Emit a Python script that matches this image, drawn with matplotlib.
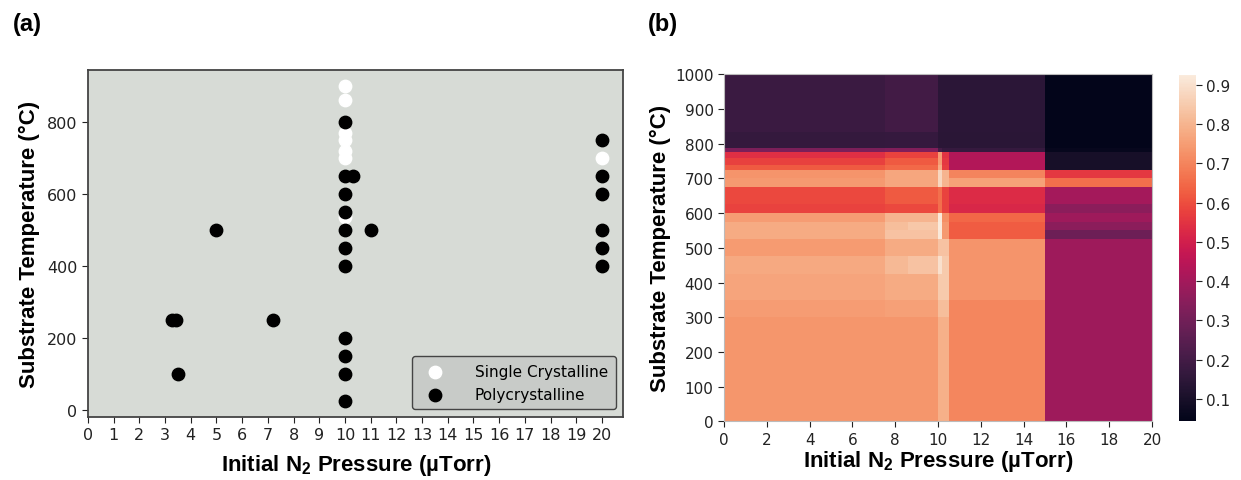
import numpy as np
import matplotlib
matplotlib.use("Agg")
import matplotlib.pyplot as plt
import seaborn as sns

plt.rcParams['font.family'] = ['DejaVu Sans']
plt.rcParams['mathtext.fontset'] = 'custom'
plt.rcParams['mathtext.rm'] = 'Liberation Sans'
plt.rcParams['mathtext.bf'] = 'Liberation Sans:bold'

# (a) growth results
single_p = [10, 10, 10, 10, 10, 10, 10, 20]
single_t = [900, 860, 770, 750, 720, 700, 535, 700]
poly_p = [10, 10, 10, 10, 10, 10, 10, 10, 10, 10, 10, 10.3, 11, 5, 3.25, 3.42, 3.5, 7.2,
          20, 20, 20, 20, 20, 20]
poly_t = [800, 650, 600, 550, 500, 450, 400, 200, 150, 100, 25, 650, 500, 500, 250, 250, 100, 250,
          750, 650, 600, 500, 450, 400]

# (b) predicted map, cell edges and values (rows bottom -> top)
p_edges = [0, 7.5, 8.6, 10.0, 10.2, 10.5, 15, 20]
t_edges = [0, 300, 350, 425, 475, 525, 550, 575, 600, 625, 675, 700, 725, 740, 760, 775, 787, 835, 1000]
prob = [
    [0.735, 0.735, 0.735, 0.79, 0.79, 0.705, 0.39],
    [0.75, 0.755, 0.755, 0.82, 0.82, 0.705, 0.39],
    [0.765, 0.78, 0.78, 0.85, 0.85, 0.73, 0.39],
    [0.775, 0.81, 0.83, 0.90, 0.85, 0.73, 0.39],
    [0.745, 0.78, 0.78, 0.83, 0.83, 0.73, 0.39],
    [0.78, 0.83, 0.83, 0.92, 0.74, 0.625, 0.29],
    [0.78, 0.82, 0.84, 0.926, 0.74, 0.625, 0.35],
    [0.75, 0.80, 0.80, 0.92, 0.72, 0.645, 0.39],
    [0.58, 0.59, 0.59, 0.66, 0.58, 0.52, 0.35],
    [0.59, 0.62, 0.62, 0.66, 0.58, 0.53, 0.405],
    [0.74, 0.77, 0.77, 0.88, 0.80, 0.76, 0.66],
    [0.73, 0.77, 0.77, 0.88, 0.80, 0.70, 0.56],
    [0.62, 0.65, 0.65, 0.78, 0.57, 0.43, 0.095],
    [0.575, 0.62, 0.62, 0.75, 0.56, 0.43, 0.095],
    [0.54, 0.58, 0.58, 0.75, 0.55, 0.43, 0.095],
    [0.32, 0.33, 0.33, 0.20, 0.17, 0.17, 0.06],
    [0.165, 0.17, 0.17, 0.14, 0.14, 0.14, 0.045],
    [0.18, 0.195, 0.195, 0.145, 0.145, 0.145, 0.045],
]
cbar_ticks = [0.1, 0.2, 0.3, 0.4, 0.5, 0.6, 0.7, 0.8, 0.9]

label_font = dict(family='Liberation Sans', fontweight='bold', fontsize=16)
xlab = r'Initial N$_{\mathbf{2}}$ Pressure (µTorr)'

fig = plt.figure(figsize=(12.41, 4.81), dpi=100)

# ---- panel (a)
ax1 = fig.add_axes([0.0709, 0.131, 0.4315, 0.721])
ax1.set_facecolor('#d7dbd6')
ax1.scatter(single_p, single_t, s=80, color='white', label='Single Crystalline', zorder=2)
ax1.scatter(poly_p, poly_t, s=80, color='black', label='Polycrystalline', zorder=3)
ax1.set_xlim(left=0)
ax1.set_xticks(range(0, 21))
ax1.set_yticks([0, 200, 400, 600, 800])
ax1.tick_params(labelsize=11.5, colors='#222222', length=4)
for s in ax1.spines.values():
    s.set_color('#444444')
    s.set_linewidth(1.3)
ax1.set_xlabel(xlab, labelpad=7, **label_font)
ax1.set_ylabel('Substrate Temperature (°C)', labelpad=5, **label_font)
leg = ax1.legend(loc='lower right', fontsize=11, facecolor='#c8cbc8', edgecolor='#444444',
                 framealpha=1, handletextpad=1.6, borderpad=0.5)

# ---- panel (b)
ax2 = fig.add_axes([0.5834, 0.122, 0.3449, 0.7214])
cmap = sns.color_palette('rocket', as_cmap=True)
mesh = ax2.pcolormesh(p_edges, t_edges, np.array(prob), cmap=cmap, vmin=0.043, vmax=0.926,
                      shading='flat')
ax2.set_xlim(0, 20)
ax2.set_ylim(0, 1000)
ax2.set_xticks(range(0, 21, 2))
ax2.set_yticks(range(0, 1001, 100))
ax2.tick_params(labelsize=11, colors='#222222', length=4)
for s in ax2.spines.values():
    s.set_color('#bbbbbb')
    s.set_linewidth(0.8)
ax2.set_xlabel(xlab, labelpad=1, **label_font)
ax2.set_ylabel('Substrate Temperature (°C)', labelpad=3, **label_font)

cax = fig.add_axes([0.9503, 0.122, 0.0132, 0.7205])
cb = fig.colorbar(mesh, cax=cax, ticks=cbar_ticks)
cb.outline.set_visible(False)
cb.ax.tick_params(labelsize=11, colors='#222222', length=4)
cb.ax.set_yticklabels([f'{t:.1f}' for t in cbar_ticks])

fig.text(0.010, 0.935, '(a)', fontsize=17, fontweight='bold', family='Liberation Sans')
fig.text(0.522, 0.935, '(b)', fontsize=17, fontweight='bold', family='Liberation Sans')

fig.savefig('out.png', dpi=100)
